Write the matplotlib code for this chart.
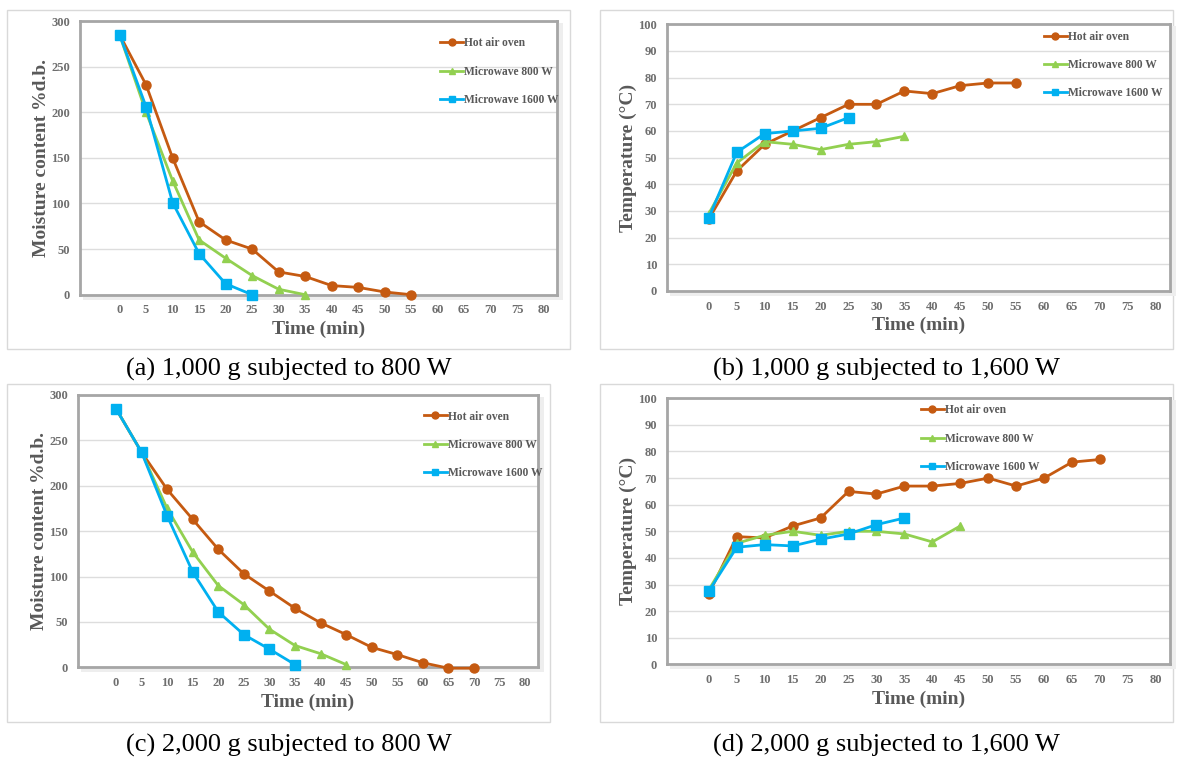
import matplotlib
matplotlib.use('Agg')
import matplotlib.pyplot as plt
from matplotlib.patches import Rectangle

plt.rcParams['font.family'] = ['Liberation Serif', 'DejaVu Serif']

# 时间轴
time_cats = [0, 5, 10, 15, 20, 25, 30, 35, 40, 45, 50, 55, 60, 65, 70, 75, 80]

# (a) 1,000 g, 800 W 含水率
a_hot = [285, 230, 150, 80, 60, 50, 25, 20, 10, 8, 3, 0]
a_mw800 = [285, 200, 125, 60, 40, 21, 6, 0]
a_mw1600 = [285, 206, 101, 45, 12, 0]

# (b) 1,000 g, 1,600 W 温度
b_hot = [27, 45, 55, 60, 65, 70, 70, 75, 74, 77, 78, 78]
b_mw800 = [29, 48, 56, 55, 53, 55, 56, 58]
b_mw1600 = [27.5, 52, 59, 60, 61, 65]

# (c) 2,000 g, 800 W 含水率
c_hot = [285, 237, 196, 163, 130, 103, 84, 65, 49, 36, 22, 14, 5, -1, -1]
c_mw800 = [285, 237, 175, 127, 90, 69, 42, 24, 15, 3]
c_mw1600 = [285, 237, 167, 105, 61, 36, 20, 3]

# (d) 2,000 g, 1,600 W 温度
d_hot = [26.5, 48, 47.5, 52, 55, 65, 64, 67, 67, 68, 70, 67, 70, 76, 77]
d_mw800 = [28, 45.5, 48.5, 50, 48.5, 50, 50, 49, 46, 52]
d_mw1600 = [27.5, 44, 45, 44.5, 47, 49, 52.5, 55]

series_names = ['Hot air oven', 'Microwave 800 W', 'Microwave 1600 W']
series_colors = ['#C55A11', '#92D050', '#00B0F0']
series_markers = ['o', '^', 's']

captions = ['(a) 1,000 g subjected to 800 W', '(b) 1,000 g subjected to 1,600 W',
            '(c) 2,000 g subjected to 800 W', '(d) 2,000 g subjected to 1,600 W']

W, H = 1180, 758
fig = plt.figure(figsize=(W / 100, H / 100), dpi=100)


def px_rect(x0, y0, x1, y1):
    # 像素坐标转为figure坐标
    return [x0 / W, 1 - y1 / H, (x1 - x0) / W, (y1 - y0) / H]


def draw_panel(box, outer, data, ylim, ystep, ylabel, leg_anchor, caption, cap_xy):
    # 外框
    ox0, oy0, ox1, oy1 = outer
    fig.patches.append(Rectangle((ox0 / W, 1 - oy1 / H), (ox1 - ox0) / W, (oy1 - oy0) / H,
                                 transform=fig.transFigure, fill=False,
                                 edgecolor='#D9D9D9', linewidth=1, zorder=0))
    # 阴影
    x0, y0, x1, y1 = box
    fig.patches.append(Rectangle(((x0 + 3) / W, 1 - (y1 + 5) / H), (x1 - x0 + 3) / W, (y1 - y0 + 3) / H,
                                 transform=fig.transFigure, facecolor='#EEEEEE',
                                 edgecolor='none', zorder=0))
    ax = fig.add_axes(px_rect(*box))
    ax.set_zorder(2)
    ax.set_facecolor('white')
    ax.set_xlim(-7.5, 82.5)
    ax.set_ylim(*ylim)
    ax.set_yticks(range(ylim[0], ylim[1] + 1, ystep))
    ax.set_xticks(time_cats)
    ax.grid(axis='y', color='#DDDDDD', linewidth=1.0)
    ax.set_axisbelow(True)
    for s in ax.spines.values():
        s.set_color('#A6A6A6')
        s.set_linewidth(2)
    ax.tick_params(length=0, labelsize=9, labelcolor='#6E6E6E', pad=7)
    for t in ax.get_xticklabels() + ax.get_yticklabels():
        t.set_fontweight('bold')

    for vals, name, c, m in zip(data, series_names, series_colors, series_markers):
        ax.plot(time_cats[:len(vals)], vals, color=c, marker=m, markersize=6.5 if m != '^' else 6,
                linewidth=2, label=name, clip_on=False, zorder=3)

    ax.set_xlabel('Time (min)', fontsize=14, fontweight='bold', color='#595959', labelpad=3)
    ax.set_ylabel(ylabel, fontsize=14, fontweight='bold', color='#595959', labelpad=1)

    leg = ax.legend(loc='upper left', bbox_to_anchor=leg_anchor, frameon=False,
                    borderpad=0, borderaxespad=0, handlelength=2.0, handletextpad=0.1,
                    labelspacing=1.4, prop={'weight': 'bold', 'size': 8.3})
    for t in leg.get_texts():
        t.set_color('#595959')
    for h in leg.legend_handles:
        h.set_markersize(5)

    fig.text(cap_xy[0] / W, 1 - cap_xy[1] / H, caption, fontsize=19,
             ha='center', va='center', color='black')
    return ax


draw_panel((79.8, 21, 557, 294.7), (7, 10, 570, 349), [a_hot, a_mw800, a_mw1600],
           (0, 300), 50, 'Moisture content %d.b.', (0.755, 0.94), captions[0], (289, 369))
draw_panel((666.9, 24.3, 1169.8, 291), (600, 10, 1173, 349), [b_hot, b_mw800, b_mw1600],
           (0, 100), 10, 'Temperature (°C)', (0.749, 0.975), captions[1], (886, 369))
draw_panel((77.6, 395, 538, 667.3), (7, 384, 550, 722), [c_hot, c_mw800, c_mw1600],
           (0, 300), 50, 'Moisture content %d.b.', (0.752, 0.943), captions[2], (289, 745))
draw_panel((666.9, 398.3, 1169.8, 664.3), (600, 384, 1173, 722), [d_hot, d_mw800, d_mw1600],
           (0, 100), 10, 'Temperature (°C)', (0.505, 0.977), captions[3], (886, 745))

plt.savefig('out.png', dpi=100)
plt.close()
